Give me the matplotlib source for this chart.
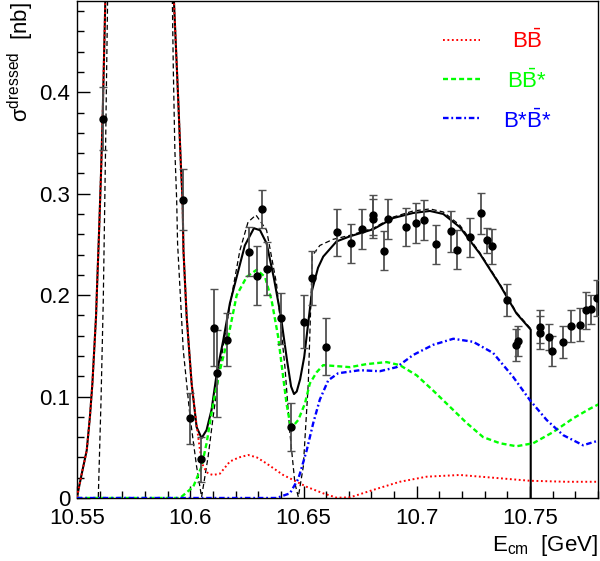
import matplotlib
matplotlib.use('Agg')
import matplotlib.pyplot as plt
from matplotlib.ticker import MultipleLocator, FuncFormatter
from matplotlib.lines import Line2D

plt.rcParams['font.family'] = ['Liberation Sans', 'DejaVu Sans']
plt.rcParams['mathtext.fontset'] = 'custom'
plt.rcParams['mathtext.rm'] = 'Liberation Sans'
plt.rcParams['mathtext.it'] = 'Liberation Sans:italic'
plt.rcParams['mathtext.bf'] = 'Liberation Sans:bold'
plt.rcParams['lines.scale_dashes'] = False

# ---------------- data points ----------------
data_x = [10.5613, 10.5970, 10.6001, 10.6048, 10.6106, 10.6116, 10.6163, 10.6260,
          10.6294, 10.6315, 10.6338, 10.6400, 10.6443, 10.6503, 10.6538, 10.6600,
          10.6646, 10.6710, 10.6759, 10.6808, 10.6808, 10.6856, 10.6871, 10.6952,
          10.6997, 10.7033, 10.7086, 10.7152, 10.7177, 10.7236, 10.7283, 10.7310,
          10.7331, 10.7398, 10.7436, 10.7448, 10.7543, 10.7543, 10.7584, 10.7596,
          10.7645, 10.7683, 10.7720, 10.7745, 10.7767, 10.7797]
data_y = [0.374, 0.294, 0.0785, 0.038, 0.168, 0.123, 0.156, 0.243,
          0.219, 0.285, 0.226, 0.177, 0.070, 0.174, 0.217, 0.149,
          0.262, 0.251, 0.265, 0.279, 0.2755, 0.244, 0.275, 0.267,
          0.271, 0.274, 0.250, 0.263, 0.245, 0.257, 0.2805, 0.254,
          0.248, 0.195, 0.151, 0.155, 0.169, 0.163, 0.159, 0.145,
          0.154, 0.1695, 0.171, 0.185, 0.186, 0.197]
data_err = [0.031, 0.030, 0.025, 0.022, 0.038, 0.043, 0.026, 0.024,
            0.029, 0.019, 0.026, 0.025, 0.024, 0.026, 0.027, 0.028,
            0.023, 0.019, 0.020, 0.020, 0.019, 0.019, 0.020, 0.019,
            0.020, 0.020, 0.019, 0.020, 0.019, 0.019, 0.020, 0.012,
            0.017, 0.016, 0.016, 0.015, 0.016, 0.016, 0.013, 0.015,
            0.016, 0.016, 0.016, 0.018, 0.014, 0.018]

# ---------------- curves (x [GeV], sigma [nb]) ----------------
total_curve = [(10.5500, 0.001), (10.5521, 0.024), (10.5543, 0.047), (10.5557, 0.080),
               (10.5568, 0.113), (10.5576, 0.146), (10.5584, 0.179), (10.5588, 0.205),
               (10.5597, 0.260), (10.5606, 0.320), (10.5613, 0.374), (10.5625, 0.490),
               (10.5640, 0.600), (10.5760, 2.000), (10.5915, 0.600), (10.5928, 0.490),
               (10.5947, 0.392), (10.5959, 0.326), (10.5966, 0.294), (10.5970, 0.244),
               (10.5984, 0.179), (10.6006, 0.113), (10.6028, 0.070), (10.6050, 0.059),
               (10.6072, 0.067), (10.6094, 0.087), (10.6117, 0.123), (10.6146, 0.156),
               (10.6175, 0.192), (10.6205, 0.218), (10.6241, 0.249), (10.6281, 0.266),
               (10.6308, 0.264), (10.6337, 0.251), (10.6369, 0.217), (10.6400, 0.179),
               (10.6427, 0.136), (10.6445, 0.110), (10.6458, 0.1025), (10.6470, 0.105),
               (10.6485, 0.117), (10.6503, 0.139), (10.6538, 0.205), (10.6564, 0.227),
               (10.6587, 0.238), (10.6646, 0.253), (10.6705, 0.258), (10.6808, 0.265),
               (10.6896, 0.276), (10.6984, 0.281), (10.7058, 0.283), (10.7117, 0.280),
               (10.7190, 0.267), (10.7278, 0.241), (10.7367, 0.210), (10.7440, 0.182),
               (10.7503, 0.166), (10.7503, 0.000)]

dashed_curve = [(10.5594, 0.001), (10.5606, 0.096), (10.5616, 0.195), (10.5626, 0.343),
                (10.5635, 0.490), (10.5650, 0.700), (10.5770, 2.500), (10.5905, 0.700),
                (10.5921, 0.490), (10.5925, 0.425), (10.5932, 0.343), (10.5940, 0.294),
                (10.5944, 0.251), (10.5969, 0.146), (10.5999, 0.080), (10.6028, 0.031),
                (10.6050, 0.001), (10.6079, 0.041), (10.6101, 0.080), (10.6131, 0.129),
                (10.6161, 0.172), (10.6175, 0.190), (10.6219, 0.244), (10.6255, 0.272),
                (10.6290, 0.279), (10.6337, 0.264), (10.6381, 0.211), (10.6418, 0.129),
                (10.6440, 0.064), (10.6462, 0.0145), (10.6477, 0.001), (10.6499, 0.031),
                (10.6521, 0.113), (10.6539, 0.239), (10.6572, 0.249), (10.6630, 0.255),
                (10.6705, 0.259), (10.6808, 0.266), (10.6896, 0.277), (10.6984, 0.283),
                (10.7058, 0.285), (10.7117, 0.282), (10.7190, 0.269), (10.7278, 0.242),
                (10.7367, 0.211), (10.7440, 0.183), (10.7503, 0.167)]

bb_curve = [(10.5500, 0.001), (10.5521, 0.024), (10.5543, 0.047), (10.5557, 0.080),
            (10.5568, 0.113), (10.5576, 0.146), (10.5584, 0.179), (10.5588, 0.205),
            (10.5597, 0.260), (10.5606, 0.320), (10.5613, 0.374), (10.5625, 0.490),
            (10.5640, 0.600), (10.5760, 2.000), (10.5915, 0.600), (10.5928, 0.490),
            (10.5947, 0.392), (10.5959, 0.326), (10.5966, 0.294), (10.5970, 0.244),
            (10.5984, 0.179), (10.6006, 0.113), (10.6025, 0.077), (10.6043, 0.047),
            (10.6057, 0.031), (10.6079, 0.024), (10.6101, 0.0227), (10.6131, 0.024),
            (10.6175, 0.036), (10.6215, 0.040), (10.6256, 0.0424), (10.6294, 0.040),
            (10.6337, 0.034), (10.6410, 0.0227), (10.6455, 0.0177), (10.6514, 0.011),
            (10.6587, 0.0046), (10.6646, 0.0003), (10.6705, 0.0006), (10.6808, 0.008),
            (10.6925, 0.016), (10.7043, 0.021), (10.7190, 0.0227), (10.7337, 0.020),
            (10.7499, 0.017), (10.7661, 0.016), (10.7808, 0.016)]

bbstar_curve = [(10.5500, 0.0), (10.5955, 0.0), (10.6013, 0.011), (10.6050, 0.031),
                (10.6072, 0.054), (10.6101, 0.093), (10.6131, 0.126), (10.6168, 0.159),
                (10.6205, 0.200), (10.6249, 0.218), (10.6293, 0.225), (10.6330, 0.218),
                (10.6359, 0.195), (10.6388, 0.159), (10.6410, 0.1195), (10.6425, 0.093),
                (10.6440, 0.074), (10.6458, 0.072), (10.6477, 0.077), (10.6506, 0.093),
                (10.6528, 0.113), (10.6558, 0.124), (10.6587, 0.131), (10.6646, 0.130),
                (10.6705, 0.129), (10.6778, 0.132), (10.6867, 0.134), (10.6925, 0.131),
                (10.6999, 0.121), (10.7072, 0.106), (10.7146, 0.090), (10.7220, 0.074),
                (10.7293, 0.060), (10.7367, 0.054), (10.7440, 0.051), (10.7514, 0.054),
                (10.7602, 0.065), (10.7690, 0.0785), (10.7764, 0.088), (10.7808, 0.093)]

bsbs_curve = [(10.5500, 0.0), (10.6381, 0.0), (10.6440, 0.0046), (10.6477, 0.019),
              (10.6484, 0.024), (10.6514, 0.047), (10.6543, 0.074), (10.6572, 0.097),
              (10.6609, 0.116), (10.6653, 0.123), (10.6749, 0.126), (10.6837, 0.125),
              (10.6911, 0.129), (10.6984, 0.141), (10.7072, 0.151), (10.7161, 0.157),
              (10.7249, 0.154), (10.7337, 0.143), (10.7367, 0.135), (10.7425, 0.1195),
              (10.7499, 0.0966), (10.7573, 0.077), (10.7646, 0.062), (10.7734, 0.052),
              (10.7808, 0.057)]

legend_labels = [r'B$\mathrm{\bar{B}}$', r'B$\mathrm{\bar{B}}$*', r'B*$\mathrm{\bar{B}}$*']
x_ticks = [10.55, 10.60, 10.65, 10.70, 10.75]
y_ticks = [0.0, 0.1, 0.2, 0.3, 0.4]

# ---------------- styles ----------------
RED, GREEN, BLUE = '#ff0000', '#00ff00', '#0000ff'
red_ls = (0, (1.3, 1.9))
green_ls = (0, (3.6, 2.2))
blue_ls = (0, (4.0, 2.0, 1.3, 2.0))
black_dash_ls = (0, (3.6, 2.2))

fig = plt.figure(figsize=(6.0, 5.61), dpi=100)
ax = fig.add_axes([77 / 600, 63 / 561, 521 / 600, 497 / 561])

def xy(c):
    return [p[0] for p in c], [p[1] for p in c]

ax.plot(*xy(total_curve), color='black', lw=1.5, zorder=3)
ax.plot(*xy(dashed_curve), color='black', lw=0.9, linestyle=black_dash_ls, zorder=3)
ax.plot(*xy(bb_curve), color=RED, lw=1.4, linestyle=red_ls, zorder=4)
ax.plot(*xy(bbstar_curve), color=GREEN, lw=1.7, linestyle=green_ls, zorder=4)
ax.plot(*xy(bsbs_curve), color=BLUE, lw=1.7, linestyle=blue_ls, zorder=4)

ax.errorbar(data_x, data_y, yerr=data_err, fmt='o', color='black', ms=5,
            ecolor='#505050', elinewidth=1.3, capsize=3, capthick=1.0, zorder=5)

ax.set_xlim(10.55, 10.78)
ax.set_ylim(0, 0.49)
ax.set_xticks(x_ticks)
ax.set_yticks(y_ticks)
fmt = FuncFormatter(lambda v, p: '%g' % round(v, 4))
ax.xaxis.set_major_formatter(fmt)
ax.yaxis.set_major_formatter(fmt)
ax.xaxis.set_minor_locator(MultipleLocator(0.01))
ax.yaxis.set_minor_locator(MultipleLocator(0.02))
ax.tick_params(which='both', direction='in', top=False, right=False, width=1.0,
               labelsize=16)
ax.tick_params(which='major', length=9)
ax.tick_params(which='minor', length=5)
ax.tick_params(axis='x', pad=7.5)
ax.tick_params(axis='y', pad=5)
for s in ax.spines.values():
    s.set_linewidth(1.0)

# legend (drawn in axes fraction)
legend_colors = [RED, GREEN, BLUE]
legend_styles = [red_ls, green_ls, blue_ls]
legend_lw = [1.4, 1.7, 1.7]
row_y = [0.9215, 0.8425, 0.764]
base_y = [0.9048, 0.8243, 0.745]
for lab, col, ls, lw, ry, by in zip(legend_labels, legend_colors, legend_styles,
                                     legend_lw, row_y, base_y):
    ax.add_line(Line2D([0.7025, 0.7735], [ry, ry], transform=ax.transAxes,
                       color=col, lw=lw, linestyle=ls))
    ax.text(0.8637, by, lab, transform=ax.transAxes, color=col, fontsize=16,
            ha='center', va='baseline')

fig.text(21 / 600, 1 - 2 / 561, r'$\mathrm{σ^{dressed}}$  [nb]', rotation=90,
         ha='center', va='top', fontsize=16)
fig.text(598 / 600, 10 / 561, r'$\mathrm{E_{cm}}$  [GeV]', ha='right',
         va='baseline', fontsize=16)

fig.savefig('out.png', dpi=100)
